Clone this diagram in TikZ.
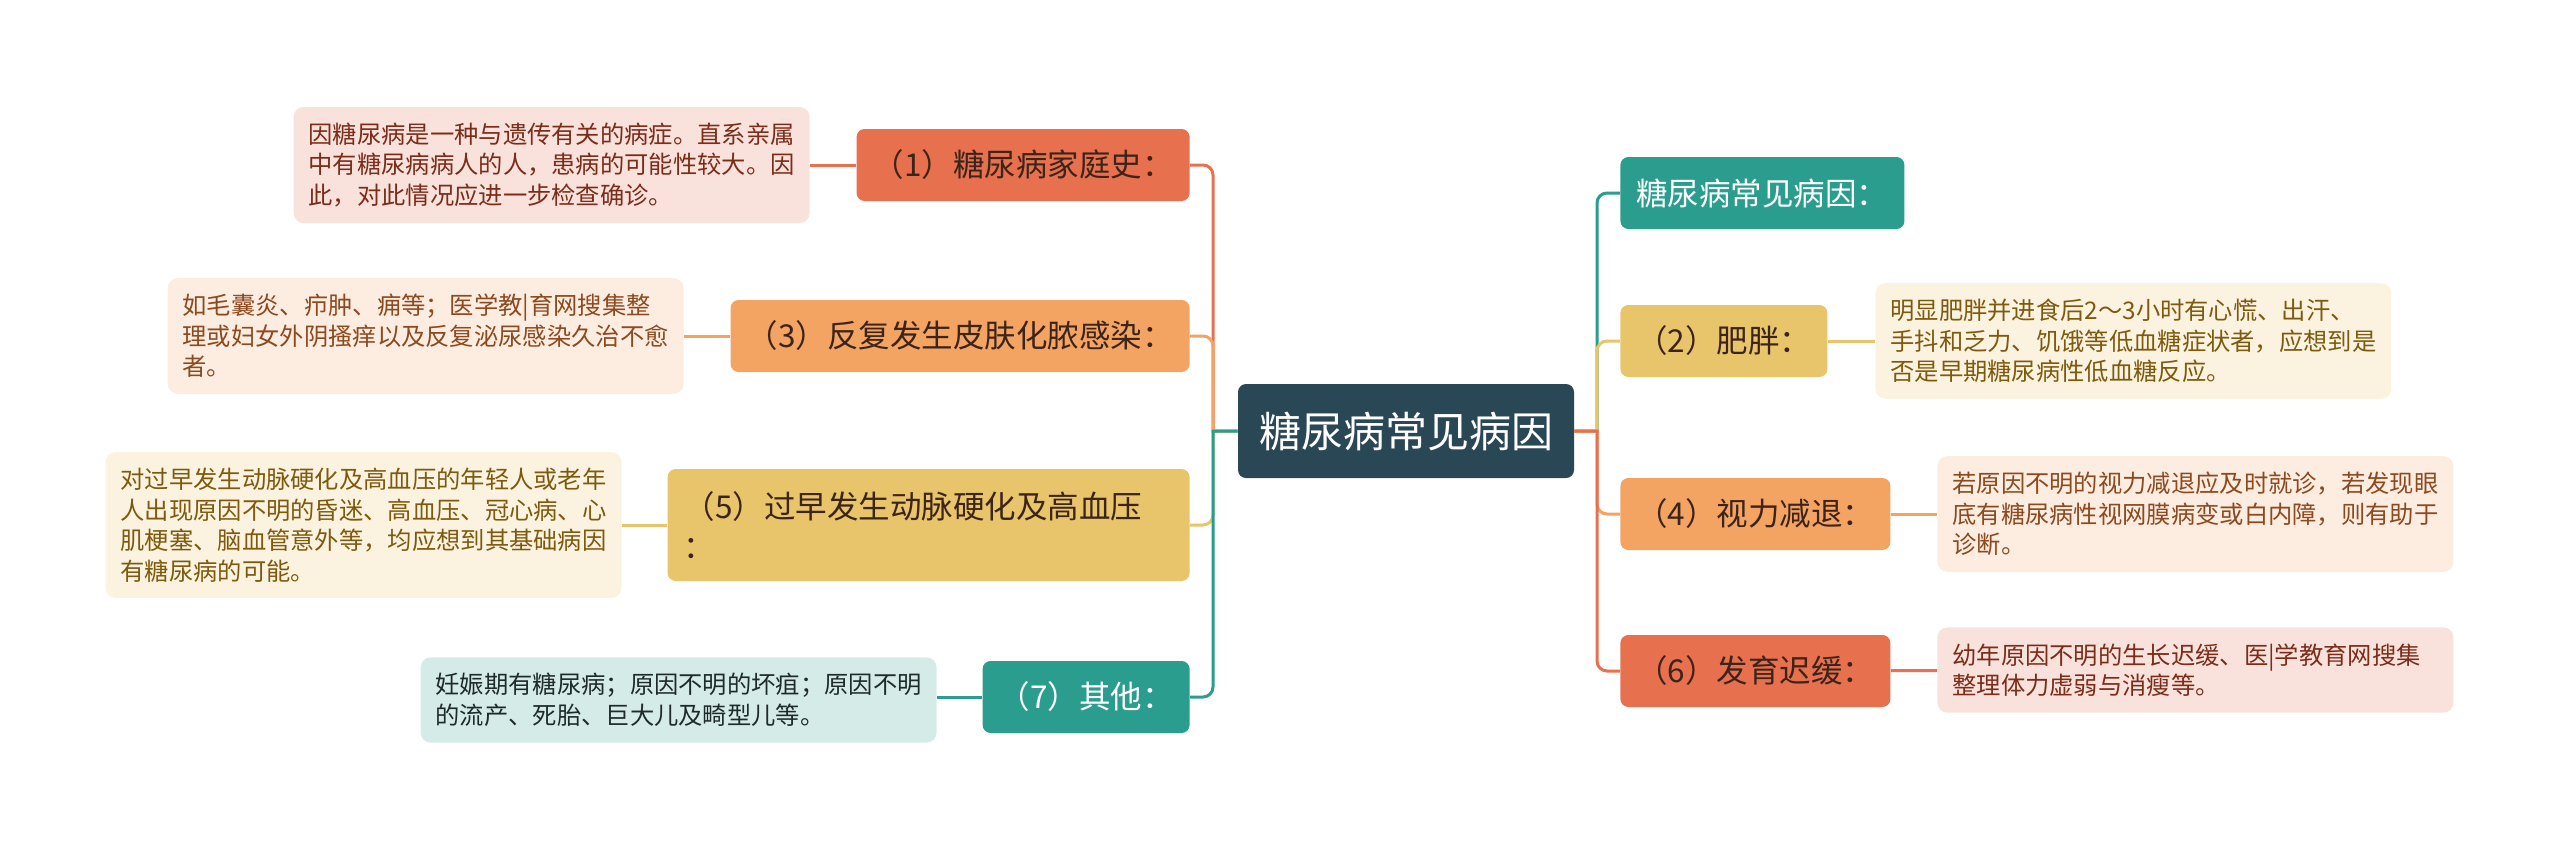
\documentclass[tikz,border=0pt]{standalone}
\usepackage{fontspec}
\setmainfont{Noto Sans CJK SC}
\definecolor{rootbg}{HTML}{2A4755}
\definecolor{cRed}{HTML}{E7704F}
\definecolor{cOrange}{HTML}{F3A463}
\definecolor{cYellow}{HTML}{E8C46B}
\definecolor{cTeal}{HTML}{2A9D8E}
\definecolor{lRed}{HTML}{F9E2DC}
\definecolor{lOrange}{HTML}{FDECE0}
\definecolor{lYellow}{HTML}{FBF3E0}
\definecolor{lTeal}{HTML}{D5EBE8}
\definecolor{tRed}{HTML}{7B2D1A}
\definecolor{tOrange}{HTML}{8B4A1F}
\definecolor{tYellow}{HTML}{7E5A0E}
\definecolor{tTeal}{HTML}{1F2B2B}
\definecolor{tDark}{HTML}{3D2418}

\begin{document}
\begin{tikzpicture}[x=0.5pt,y=-0.5pt,
    box/.style={rounded corners=4pt, inner xsep=8pt, inner ysep=0pt, minimum height=36pt,
        font=\fontsize{15.75pt}{20pt}\selectfont, align=left},
    note/.style={rounded corners=5pt, inner xsep=7.5pt, inner ysep=8pt, text width=243pt,
        align=left, font=\fontsize{12.15pt}{15.25pt}\selectfont},
    link/.style={line width=1.5pt}]
            \useasboundingbox (0,0) rectangle (2560,847);
            \node[fill=rootbg, text=white, rounded corners=4pt, minimum width=168pt, minimum height=47pt,
                font=\fontsize{21pt}{25pt}\selectfont] (root) at (1406,431) {糖尿病常见病因};
            \coordinate (lbus) at (1213,431);
            \coordinate (rbus) at (1597,431);
            % left side
            \node[box, fill=cRed, text=tDark, anchor=east] (fam) at (1190,165) {（1）糖尿病家庭史：};
            \node[box, fill=cOrange, text=tDark, anchor=east] (skin) at (1190,336) {（3）反复发生皮肤化脓感染：};
            \node[box, fill=cYellow, text=tDark, anchor=east, text width=245pt, minimum height=56pt] (artery) at (1190,525) {（5）过早发生动脉硬化及高血压\\：};
            \node[box, fill=cTeal, text=white, anchor=east] (other) at (1190,697) {（7）其他：};
            \node[note, fill=lRed, text=tRed, anchor=east] (famnote) at (810,165) {因糖尿病是一种与遗传有关的病症。直系亲属\\中有糖尿病病人的人，患病的可能性较大。因\\此，对此情况应进一步检查确诊。};
            \node[note, fill=lOrange, text=tOrange, anchor=east] (skinnote) at (684,336) {如毛囊炎、疖肿、痈等；医学教|育网搜集整\\理或妇女外阴搔痒以及反复泌尿感染久治不愈\\者。};
            \node[note, fill=lYellow, text=tYellow, anchor=east] (arterynote) at (622,525) {对过早发生动脉硬化及高血压的年轻人或老年\\人出现原因不明的昏迷、高血压、冠心病、心\\肌梗塞、脑血管意外等，均应想到其基础病因\\有糖尿病的可能。};
            \node[note, fill=lTeal, text=tTeal, anchor=east] (othernote) at (937,700) {妊娠期有糖尿病；原因不明的坏疽；原因不明\\的流产、死胎、巨大儿及畸型儿等。};
            % right side
            \node[box, fill=cTeal, text=white, anchor=west] (common) at (1620,193) {糖尿病常见病因：};
            \node[box, fill=cYellow, text=tDark, anchor=west] (obese) at (1620,341) {（2）肥胖：};
            \node[box, fill=cOrange, text=tDark, anchor=west] (vision) at (1620,514) {（4）视力减退：};
            \node[box, fill=cRed, text=tDark, anchor=west] (growth) at (1620,671) {（6）发育迟缓：};
            \node[note, fill=lYellow, text=tYellow, anchor=west] (obesenote) at (1875,341) {明显肥胖并进食后2～3小时有心慌、出汗、\\手抖和乏力、饥饿等低血糖症状者，应想到是\\否是早期糖尿病性低血糖反应。};
            \node[note, fill=lOrange, text=tOrange, anchor=west] (visionnote) at (1937,514) {若原因不明的视力减退应及时就诊，若发现眼\\底有糖尿病性视网膜病变或白内障，则有助于\\诊断。};
            \node[note, fill=lRed, text=tRed, anchor=west] (growthnote) at (1937,670) {幼年原因不明的生长迟缓、医|学教育网搜集\\整理体力虚弱与消瘦等。};
            % branches
            \draw[link, cRed] (root.west) -- (lbus) [rounded corners=5pt] |- (fam.east);
            \draw[link, cOrange] (root.west) -- (lbus) [rounded corners=5pt] |- (skin.east);
            \draw[link, cYellow] (root.west) -- (lbus) [rounded corners=5pt] |- (artery.east);
            \draw[link, cTeal] (root.west) -- (lbus) [rounded corners=5pt] |- (other.east);
            \draw[link, cTeal] (root.east) -- (rbus) [rounded corners=5pt] |- (common.west);
            \draw[link, cYellow] (root.east) -- (rbus) [rounded corners=5pt] |- (obese.west);
            \draw[link, cOrange] (root.east) -- (rbus) [rounded corners=5pt] |- (vision.west);
            \draw[link, cRed] (root.east) -- (rbus) [rounded corners=5pt] |- (growth.west);
            \draw[link, cRed] (fam) to (famnote);
            \draw[link, cOrange] (skin) to (skinnote);
            \draw[link, cYellow] (artery) to (arterynote);
            \draw[link, cTeal] (other.west) to (othernote.east |- other.west);
            \draw[link, cYellow] (obese) to (obesenote);
            \draw[link, cOrange] (vision) to (visionnote);
            \draw[link, cRed] (growth) to (growthnote);
        \end{tikzpicture}
\end{document}
